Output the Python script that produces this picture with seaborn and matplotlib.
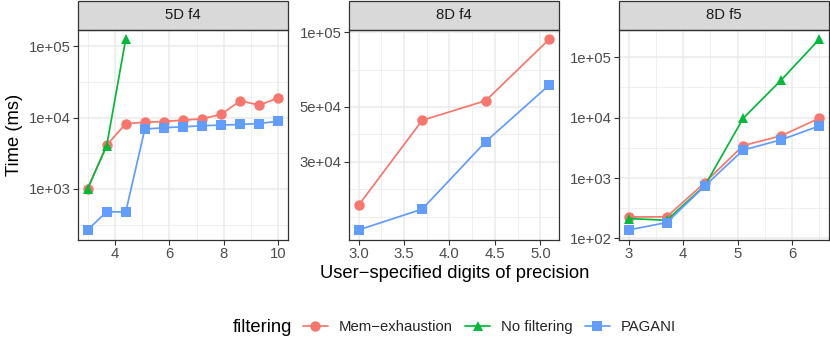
import numpy as np
import pandas as pd
import matplotlib
matplotlib.use("Agg")
import matplotlib.pyplot as plt
import seaborn as sns
from matplotlib.lines import Line2D
from matplotlib.patches import Rectangle

# data (time in ms)
digits_5d = [3.0, 3.7, 4.4, 5.1, 5.8, 6.5, 7.2, 7.9, 8.6, 9.3, 10.0]
mem_5d_f4 = [1000, 4100, 8200, 8600, 8800, 9200, 9600, 11100, 17200, 14900, 19000]
nofilt_5d_f4 = [1000, 4000, 126000]
pagani_5d_f4 = [266, 479, 475, 6900, 7200, 7430, 7670, 7850, 8000, 8250, 8900]

digits_8d_f4 = [3.0, 3.7, 4.4, 5.1]
mem_8d_f4 = [20000, 44100, 53000, 94000]
pagani_8d_f4 = [15900, 19300, 36200, 61400]

digits_8d_f5 = [3.0, 3.7, 4.4, 5.1, 5.8, 6.5]
mem_8d_f5 = [226, 228, 840, 3440, 5000, 9800]
nofilt_8d_f5 = [213, 200, 750, 9700, 42000, 200000]
pagani_8d_f5 = [138, 183, 740, 2900, 4300, 7300]

panels = ["5D f4", "8D f4", "8D f5"]
methods = ["Mem\u2212exhaustion", "No filtering", "PAGANI"]
colors = ["#F8766D", "#00BA38", "#619CFF"]
markers = ["o", "^", "s"]

rows = []
def add(panel, method, xs, ys):
    for x, y in zip(xs, ys):
        rows.append({"panel": panel, "filtering": method, "digits": x, "time": y})

add("5D f4", methods[0], digits_5d, mem_5d_f4)
add("5D f4", methods[1], digits_5d[:3], nofilt_5d_f4)
add("5D f4", methods[2], digits_5d, pagani_5d_f4)
add("8D f4", methods[0], digits_8d_f4, mem_8d_f4)
add("8D f4", methods[2], digits_8d_f4, pagani_8d_f4)
add("8D f5", methods[0], digits_8d_f5, mem_8d_f5)
add("8D f5", methods[1], digits_8d_f5, nofilt_8d_f5)
add("8D f5", methods[2], digits_8d_f5, pagani_8d_f5)
df = pd.DataFrame(rows)

sns.set_theme(style="white")
plt.rcParams["font.family"] = ["Liberation Sans", "DejaVu Sans"]

W, H = 830, 338
fig = plt.figure(figsize=(W / 100, H / 100), dpi=100)

lefts = [78, 349, 619]
pw = 210
top, bottom = 29.5, 239.5

xmajor = [[4, 6, 8, 10], [3.0, 3.5, 4.0, 4.5, 5.0], [3, 4, 5, 6]]
xminor = [[3, 5, 7, 9], [3.25, 3.75, 4.25, 4.75], [3.5, 4.5, 5.5, 6.5]]
xlabels = [["4", "6", "8", "10"], ["3.0", "3.5", "4.0", "4.5", "5.0"], ["3", "4", "5", "6"]]
ymajor = [[1e3, 1e4, 1e5], [3e4, 5e4, 1e5], [1e2, 1e3, 1e4, 1e5]]
ylabels = [["1e+03", "1e+04", "1e+05"], ["3e+04", "5e+04", "1e+05"],
           ["1e+02", "1e+03", "1e+04", "1e+05"]]

tick_fs = 10.7
title_fs = 13.2
msize = 7.5

for i, panel in enumerate(panels):
    ax = fig.add_axes([lefts[i] / W, 1 - bottom / H, pw / W, (bottom - top) / H])
    sub = df[df["panel"] == panel]

    # ggplot-like grid: minor lines at the log-midpoints, majors at the breaks
    lb = np.log10(ymajor[i])
    step = lb[1] - lb[0]
    ext = np.concatenate([[lb[0] - step], lb, [lb[-1] + step]])
    ymin_grid = 10 ** ((ext[:-1] + ext[1:]) / 2)
    for v in list(ymin_grid) + [10 ** ext[0]]:
        ax.axhline(v, color="#EBEBEB", lw=0.55, zorder=0)
    for v in xminor[i]:
        ax.axvline(v, color="#EBEBEB", lw=0.55, zorder=0)
    for v in ymajor[i]:
        ax.axhline(v, color="#EBEBEB", lw=1.1, zorder=0)
    for v in xmajor[i]:
        ax.axvline(v, color="#EBEBEB", lw=1.1, zorder=0)

    present = [m for m in methods if m in set(sub["filtering"])]
    sns.lineplot(data=sub, x="digits", y="time", hue="filtering", style="filtering",
                 hue_order=present, style_order=present,
                 palette={m: c for m, c in zip(methods, colors)},
                 markers={m: mk for m, mk in zip(methods, markers)},
                 dashes=False, markersize=msize, markeredgewidth=0, linewidth=1.25,
                 legend=False, ax=ax, zorder=3)
    ax.set_yscale("log")

    xs = sub["digits"]
    xr = xs.max() - xs.min()
    ax.set_xlim(xs.min() - 0.05 * xr, xs.max() + 0.05 * xr)
    ly = np.log10(sub["time"])
    yr = ly.max() - ly.min()
    ax.set_ylim(10 ** (ly.min() - 0.05 * yr), 10 ** (ly.max() + 0.05 * yr))

    ax.set_xticks(xmajor[i])
    ax.set_xticklabels(xlabels[i])
    ax.set_yticks(ymajor[i])
    ax.set_yticklabels(ylabels[i])
    ax.yaxis.set_minor_locator(matplotlib.ticker.NullLocator())
    ax.tick_params(axis="both", which="major", length=3.5, width=0.8, color="#333333",
                   labelsize=tick_fs, labelcolor="#4D4D4D", pad=2, direction="out",
                   bottom=True, left=True)
    ax.set_xlabel("")
    ax.set_ylabel("")
    for s in ax.spines.values():
        s.set_color("#333333")
        s.set_linewidth(0.9)
        s.set_zorder(5)

    # facet strip
    strip_h = (top - 1) / (bottom - top)
    rect = Rectangle((0, 1), 1, strip_h, transform=ax.transAxes, facecolor="#D9D9D9",
                     edgecolor="#333333", linewidth=0.9, clip_on=False)
    ax.add_patch(rect)
    ax.text(0.5, 1 + strip_h / 2, panel, transform=ax.transAxes, ha="center",
            va="center", fontsize=tick_fs, color="#1A1A1A")

    if i == 0:
        ax.set_ylabel("Time (ms)", fontsize=title_fs, color="black", labelpad=4)

fig.text(455 / W, 1 - 274 / H, "User\u2212specified digits of precision",
         ha="center", va="center", fontsize=title_fs, color="black")

handles = [Line2D([0], [0], color=c, marker=m, markersize=msize, markeredgewidth=0, lw=1.25)
           for c, m in zip(colors, markers)]
fig.text(233 / W, 1 - 327 / H, "filtering", ha="left", va="center",
         fontsize=title_fs, color="black")
fig.legend(handles, methods, loc="center left", bbox_to_anchor=(303 / W, 1 - 327 / H),
           ncol=3, frameon=False, fontsize=tick_fs, handlelength=1.65,
           handletextpad=0.75, columnspacing=0.85, borderaxespad=0, borderpad=0)

fig.savefig("out.png", dpi=100)
